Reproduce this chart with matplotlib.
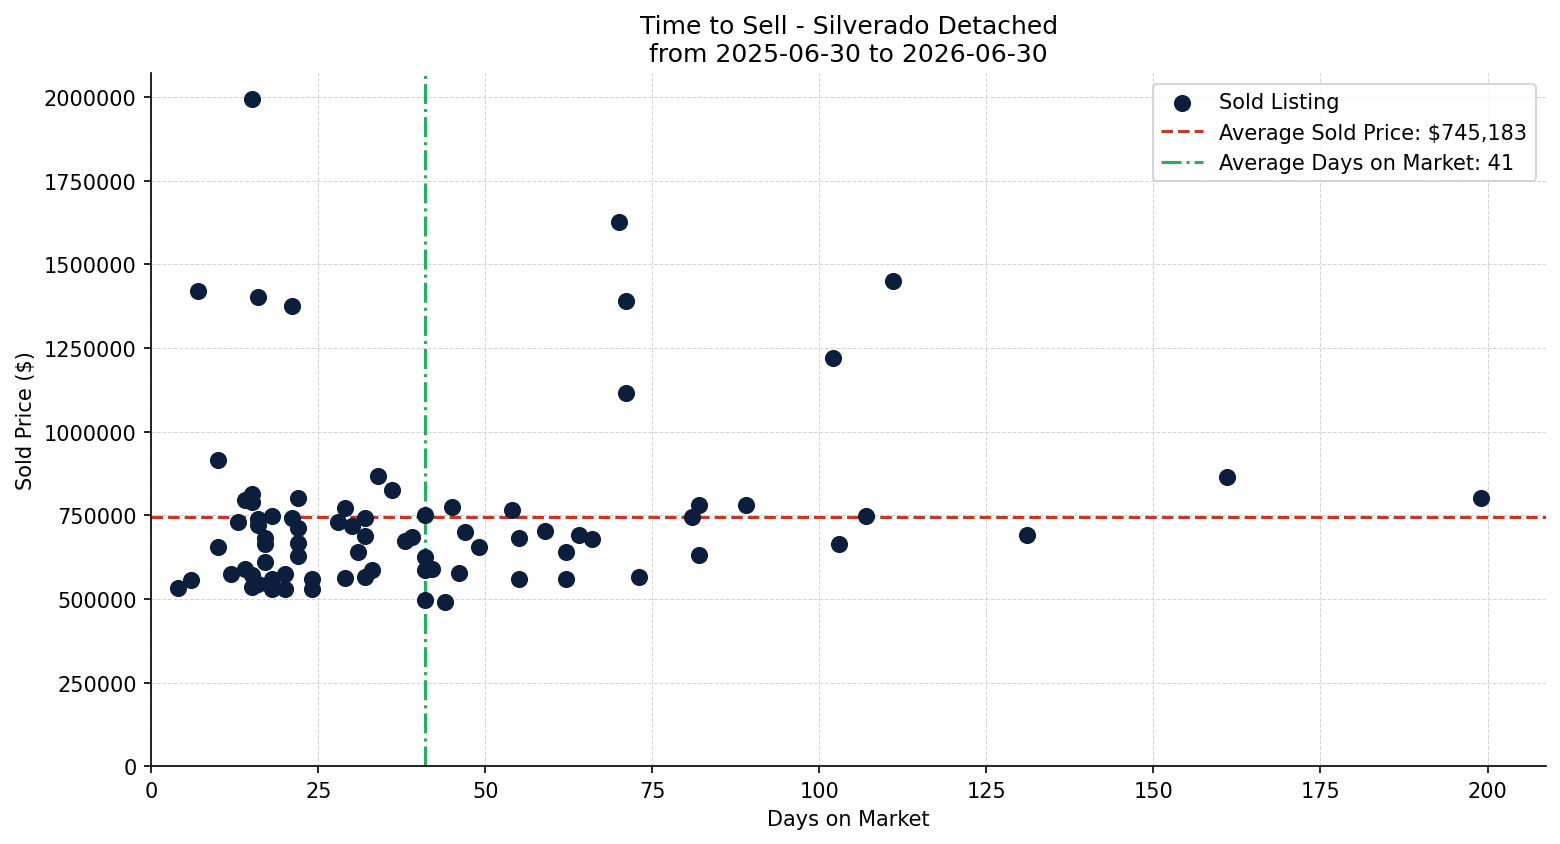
import matplotlib
matplotlib.use("Agg")
import matplotlib.pyplot as plt
import matplotlib.ticker as mticker

# days on market / sold price for each sold listing
days = [15, 7, 16, 21, 70, 71, 71, 111, 102, 10, 161, 199, 131, 107, 103,
        89, 82, 81, 82, 59, 64, 66, 62, 62, 73,
        34, 36, 29, 28, 30, 32, 32, 31, 29, 32, 33,
        41, 38, 39, 41, 41, 42, 41, 44, 45, 47, 49, 46, 54, 55, 55,
        4, 6, 10, 12, 13, 14, 15, 15, 14, 15, 15, 16, 16, 16, 17, 17, 17,
        18, 18, 18, 20, 20, 21, 22, 22, 22, 22, 24, 24]
prices = [1995000, 1420000, 1402000, 1375000, 1627000, 1390000, 1115000, 1450000, 1220000, 915000, 865000, 802000, 692000, 748000, 663000,
          781000, 781000, 745000, 632000, 704000, 692000, 680000, 641000, 560000, 566000,
          868000, 826000, 772000, 730000, 719000, 742000, 689000, 641000, 563000, 566000, 587000,
          751000, 674000, 686000, 626000, 586000, 590000, 496000, 491000, 775000, 700000, 656000, 578000, 766000, 683000, 560000,
          533000, 557000, 656000, 575000, 730000, 796000, 812000, 790000, 588000, 570000, 536000, 546000, 738000, 722000, 682000, 665000, 611000,
          748000, 558000, 530000, 575000, 530000, 742000, 802000, 713000, 668000, 629000, 558000, 530000]

avg_price = 745183
avg_days = 41

fig = plt.figure(figsize=(10.4, 5.6333), dpi=150)
ax = fig.add_subplot(111)
fig.subplots_adjust(left=0.097, right=0.991, top=0.912, bottom=0.092)

ax.scatter(days, prices, s=52, color='#0b1f3d', label='Sold Listing', zorder=3)
ax.axhline(avg_price, color='#c0392b', linestyle='--', linewidth=1.5,
           label='Average Sold Price: ${:,}'.format(avg_price), zorder=2)
ax.axvline(avg_days, color='#27ae60', linestyle='-.', linewidth=1.5,
           label='Average Days on Market: {}'.format(avg_days), zorder=2)

ax.set_xlim(left=0)
ax.set_ylim(bottom=0)
ax.yaxis.set_major_locator(mticker.MultipleLocator(250000))
ax.yaxis.set_major_formatter(mticker.FormatStrFormatter('%d'))
ax.xaxis.set_major_locator(mticker.MultipleLocator(25))

ax.grid(True, linestyle='--', linewidth=0.5, color='#d5d5d5')
ax.set_axisbelow(True)
ax.spines['top'].set_visible(False)
ax.spines['right'].set_visible(False)

ax.set_title('Time to Sell - Silverado Detached\nfrom 2025-06-30 to 2026-06-30')
ax.set_xlabel('Days on Market')
ax.set_ylabel('Sold Price ($)')
ax.legend(loc='upper right')

fig.savefig('out.png', dpi=150)
